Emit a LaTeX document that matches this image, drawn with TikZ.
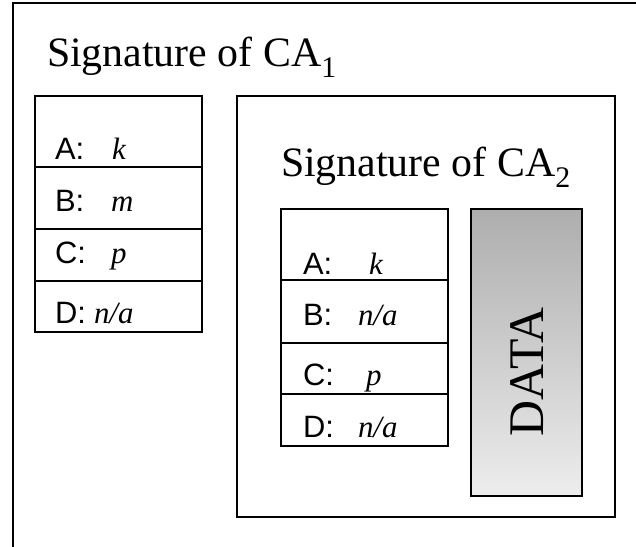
\documentclass[tikz,border=0pt]{standalone}
\usepackage{fontspec}
\setmainfont{Liberation Serif}
\setsansfont{Liberation Sans}
\newcommand{\mysub}[1]{\raisebox{-11bp}{\fontsize{30}{30}\selectfont #1}}
\begin{document}
\begin{tikzpicture}[x=1bp,y=-1bp,
  frame/.style={draw=black,line width=1.4bp},
  txt/.style={anchor=base west,inner sep=0pt,outer sep=0pt},
  title/.style={txt,font=\fontsize{42}{42}\selectfont},
  lab/.style={txt,font=\sffamily\fontsize{31}{31}\selectfont},
  val/.style={txt,font=\itshape\fontsize{31}{31}\selectfont}]
\useasboundingbox (0,0) rectangle (636,547);
\fill[white] (0,0) rectangle (636,547);
% outer frame (only left and top visible)
\coordinate (obl) at (13,547);
\coordinate (otl) at (13,3);
\coordinate (otr) at (636,3);
\draw[frame] (obl) -- (otl) -- (otr);
\node[title] (t1) at (47,67) {Signature of CA\mysub{1}};
% left table
\draw[frame] (35,96) rectangle (202,332);
\draw[frame] (35,167) -- (202,167);
\draw[frame] (35,229) -- (202,229);
\draw[frame] (35,281) -- (202,281);
\node[lab] (la) at (55,160) {A:};
\node[val] (lav) at (112,160) {k};
\node[lab] (lb) at (55,212) {B:};
\node[val] (lbv) at (111,212) {m};
\node[lab] (lc) at (55,263) {C:};
\node[val] (lcv) at (111,263) {p};
\node[lab] (ld) at (55,323) {D:};
\node[val] (ldv) at (94,323) {n/a};
% inner box
\draw[frame] (237,96) rectangle (615,517);
\node[title] (t2) at (281,177) {Signature of CA\mysub{2}};
% inner table
\draw[frame] (281,209) rectangle (448,446);
\draw[frame] (281,280) -- (448,280);
\draw[frame] (281,343) -- (448,343);
\draw[frame] (281,394) -- (448,394);
\node[lab] (ra) at (303,274) {A:};
\node[val] (rav) at (369,274) {k};
\node[lab] (rb) at (303,325) {B:};
\node[val] (rbv) at (358,325) {n/a};
\node[lab] (rc) at (303,385) {C:};
\node[val] (rcv) at (366,385) {p};
\node[lab] (rd) at (303,437) {D:};
\node[val] (rdv) at (358,437) {n/a};
% data box
\shade[top color=black!32,bottom color=black!7] (471,209) rectangle (582,496);
\draw[frame] (471,209) rectangle (582,496);
\node[rotate=90,inner sep=0pt,font=\fontsize{50}{50}\selectfont] (data) at (527,372) {DATA};
\end{tikzpicture}
\end{document}
